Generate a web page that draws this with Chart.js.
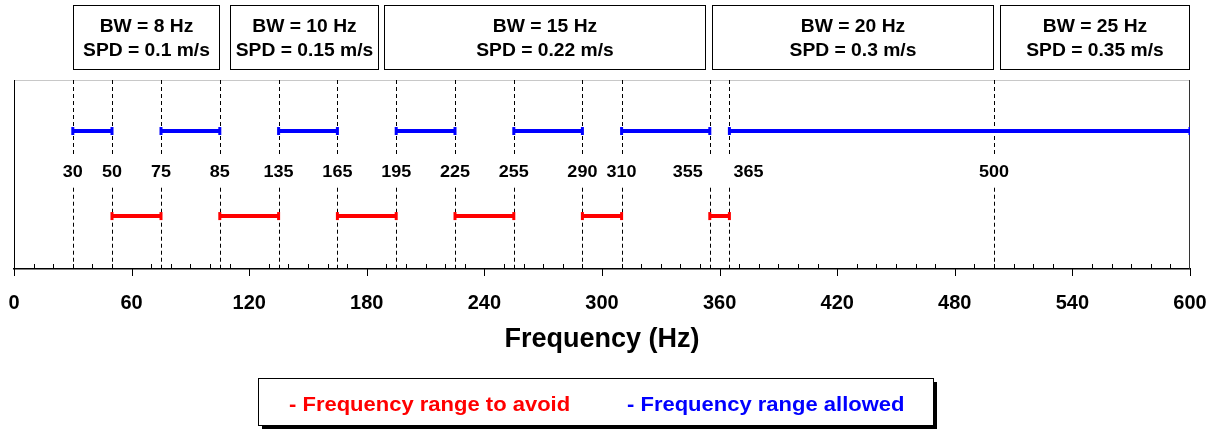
<!DOCTYPE html>
<html>
<head>
<meta charset="utf-8">
<script src="https://cdn.jsdelivr.net/npm/chart.js@4"></script>
<style>
  html, body { margin: 0; padding: 0; background: #fff; }
  #wrap { width: 1220px; height: 432px; }
</style>
</head>
<body>
<div id="wrap"><canvas id="freqChart" width="1220" height="432"></canvas></div>
<script>
// 頻率邊界（虛線）與其標籤（原圖 105 Hz 處的標籤寫的是 85）
const boundaries = [30, 50, 75, 105, 135, 165, 195, 225, 255, 290, 310, 355, 365, 500];
const boundaryLabels = ['30', '50', '75', '85', '135', '165', '195', '225', '255', '290', '310', '355', '365', '500'];
const labelAlign = ['center', 'center', 'center', 'center', 'center', 'center', 'center', 'center', 'center', 'center', 'center', 'right', 'left', 'center'];

// 允許 / 避免的頻率區間
const allowedRanges = [[30, 50], [75, 105], [135, 165], [195, 225], [255, 290], [310, 355], [365, 600]];
const avoidRanges = [[50, 75], [105, 135], [165, 195], [225, 255], [290, 310], [355, 365]];

// 上方頻寬 / 速度方框
const bandTitles = ['BW = 8 Hz', 'BW = 10 Hz', 'BW = 15 Hz', 'BW = 20 Hz', 'BW = 25 Hz'];
const bandSpeeds = ['SPD = 0.1 m/s', 'SPD = 0.15 m/s', 'SPD = 0.22 m/s', 'SPD = 0.3 m/s', 'SPD = 0.35 m/s'];
const bandSpans = [[30, 105], [110, 186], [189, 353], [356, 500], [503, 600]];

// X 軸刻度
const xMin = 0, xMax = 600, xStep = 60, xMinorStep = 10;

const FONT = '"Liberation Sans", Arial, sans-serif';
const allowY = 7.3, avoidY = 2.8, labelY = 5.1, gapTop = 6.05, gapBottom = 4.3;

// 把區間轉成折線點（區間之間用 null 斷開）
function toPoints(ranges, y) {
  const pts = [];
  ranges.forEach(r => {
    pts.push({ x: r[0], y: y });
    pts.push({ x: r[1], y: y });
    pts.push({ x: r[1], y: null });
  });
  return pts;
}

// 水平拉寬的文字（原圖文字略寬）
function wideText(ctx, text, x, y, align, sx) {
  ctx.save();
  ctx.translate(x, y);
  ctx.scale(sx, 1);
  ctx.textAlign = align;
  ctx.fillText(text, 0, 0);
  ctx.restore();
}

// 自訂繪圖：虛線、標籤、刻度、方框、標題、圖例
const overlay = {
  id: 'overlay',
  beforeDatasetsDraw(chart) {
    const ctx = chart.ctx, xs = chart.scales.x, ys = chart.scales.y, a = chart.chartArea;
    ctx.save();
    // 外框（上方淡灰，左右黑）
    ctx.lineWidth = 1;
    ctx.strokeStyle = '#c8c8c8';
    ctx.beginPath(); ctx.moveTo(a.left, a.top + 0.5); ctx.lineTo(a.right, a.top + 0.5); ctx.stroke();
    ctx.strokeStyle = '#000';
    ctx.beginPath(); ctx.moveTo(a.left + 0.5, a.top); ctx.lineTo(a.left + 0.5, a.bottom); ctx.stroke();
    ctx.strokeStyle = '#333';
    ctx.beginPath(); ctx.moveTo(a.right - 0.5, a.top); ctx.lineTo(a.right - 0.5, a.bottom); ctx.stroke();

    // 虛線
    ctx.strokeStyle = '#000';
    ctx.setLineDash([4, 3]);
    boundaries.forEach(b => {
      const x = Math.round(xs.getPixelForValue(b)) + 0.5;
      ctx.beginPath();
      ctx.moveTo(x, a.top); ctx.lineTo(x, ys.getPixelForValue(gapTop));
      ctx.moveTo(x, ys.getPixelForValue(gapBottom)); ctx.lineTo(x, a.bottom);
      ctx.stroke();
    });
    ctx.setLineDash([]);

    // 邊界標籤
    ctx.fillStyle = '#000';
    ctx.font = 'bold 17px ' + FONT;
    ctx.textBaseline = 'middle';
    boundaries.forEach((b, i) => {
      const x = xs.getPixelForValue(b);
      const y = ys.getPixelForValue(labelY);
      if (labelAlign[i] === 'right') wideText(ctx, boundaryLabels[i], x - 7, y, 'right', 1.06);
      else if (labelAlign[i] === 'left') wideText(ctx, boundaryLabels[i], x + 4, y, 'left', 1.06);
      else wideText(ctx, boundaryLabels[i], x, y, 'center', 1.06);
    });
    ctx.restore();
  },
  afterDraw(chart) {
    const ctx = chart.ctx, xs = chart.scales.x, a = chart.chartArea;
    ctx.save();
    // 刻度：主刻度向下，次刻度向上
    ctx.strokeStyle = '#000';
    ctx.lineWidth = 1;
    for (let v = xMin; v <= xMax; v += xMinorStep) {
      const x = Math.round(xs.getPixelForValue(v)) + 0.5;
      ctx.beginPath();
      if (v % xStep === 0) { ctx.moveTo(x, a.bottom); ctx.lineTo(x, a.bottom + 7); }
      else { ctx.moveTo(x, a.bottom); ctx.lineTo(x, a.bottom - 5); }
      ctx.stroke();
    }

    // 上方方框
    ctx.font = 'bold 18px ' + FONT;
    ctx.textBaseline = 'middle';
    bandSpans.forEach((s, i) => {
      const x1 = Math.round(xs.getPixelForValue(s[0])) + 0.5;
      const x2 = Math.round(xs.getPixelForValue(s[1])) - 0.5;
      ctx.strokeStyle = '#000';
      ctx.strokeRect(x1, 5.5, x2 - x1, 64);
      ctx.fillStyle = '#000';
      wideText(ctx, bandTitles[i], (x1 + x2) / 2, 27, 'center', 1.07);
      wideText(ctx, bandSpeeds[i], (x1 + x2) / 2, 51, 'center', 1.07);
    });

    // X 軸標題
    ctx.font = 'bold 27px ' + FONT;
    ctx.textAlign = 'center';
    ctx.fillText('Frequency (Hz)', (a.left + a.right) / 2, 340);

    // 圖例（含陰影方框）
    const lx = 258, ly = 378, lw = 675, lh = 47;
    ctx.fillStyle = '#000';
    ctx.fillRect(lx + 4, ly + 4, lw, lh);
    ctx.fillStyle = '#fff';
    ctx.fillRect(lx, ly, lw, lh);
    ctx.strokeStyle = '#000';
    ctx.strokeRect(lx + 0.5, ly + 0.5, lw, lh);
    ctx.font = 'bold 20px ' + FONT;
    const ds = chart.data.datasets;
    ctx.fillStyle = ds[0].borderColor;
    wideText(ctx, '- ' + ds[0].label, 289, 405, 'left', 1.1);
    ctx.fillStyle = ds[1].borderColor;
    wideText(ctx, '- ' + ds[1].label, 627, 405, 'left', 1.1);
    ctx.restore();
  }
};

const ctx = document.getElementById('freqChart').getContext('2d');
new Chart(ctx, {
  type: 'line',
  data: {
    datasets: [
      {
        label: 'Frequency range to avoid',
        data: toPoints(avoidRanges, avoidY),
        borderColor: '#ff0000',
        backgroundColor: '#ff0000',
        borderWidth: 4,
        pointStyle: 'line',
        rotation: 90,
        pointRadius: 4,
        pointBorderWidth: 3,
        spanGaps: false
      },
      {
        label: 'Frequency range allowed',
        data: toPoints(allowedRanges, allowY),
        borderColor: '#0000ff',
        backgroundColor: '#0000ff',
        borderWidth: 4,
        pointStyle: 'line',
        rotation: 90,
        pointRadius: 4,
        pointBorderWidth: 3,
        spanGaps: false
      }
    ]
  },
  options: {
    responsive: false,
    animation: false,
    layout: { padding: { left: 14, right: 30, top: 80, bottom: 0 } },
    plugins: { legend: { display: false }, tooltip: { enabled: false } },
    scales: {
      x: {
        type: 'linear',
        min: xMin,
        max: xMax,
        ticks: {
          stepSize: xStep,
          color: '#000',
          padding: 22,
          maxRotation: 0,
          font: { family: FONT, size: 20, weight: 'bold' }
        },
        grid: { display: false, drawTicks: false },
        border: { display: true, color: '#000', width: 1.5 },
        afterFit: scale => {
          scale.height = 163;
          scale.paddingLeft = 0;
          scale.paddingRight = 0;
        }
      },
      y: { display: false, min: 0, max: 10 }
    }
  },
  plugins: [overlay]
});
</script>
</body>
</html>
